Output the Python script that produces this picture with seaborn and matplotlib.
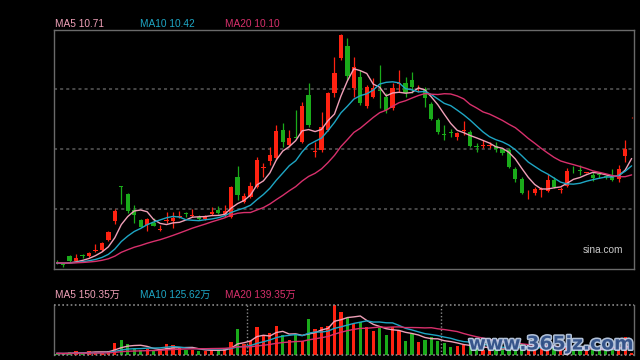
import numpy as np
import pandas as pd
import matplotlib
matplotlib.use("Agg")
import matplotlib.pyplot as plt
import matplotlib.patheffects as pe
import seaborn as sns

# ---------------- data ----------------
opens = [6.86, 6.76, 7.09, 6.91, 7.09, 7.10, 7.26, 7.31, 7.68, 8.38,
         9.66, 9.39, 8.79, 8.42, 8.24, 8.30, 8.04, 8.38, 8.38, 8.54,
         8.65, 8.56, 8.54, 8.46, 8.64, 8.79, 8.61, 8.54, 10.03, 9.10,
         9.29, 9.66, 10.36, 10.62, 10.73, 11.76, 11.20, 11.49, 11.33, 13.06,
         10.95, 11.02, 11.76, 13.12, 14.42, 14.88, 13.31, 13.72, 12.65, 13.00,
         13.22, 13.00, 12.57, 13.46, 13.49, 13.62, 13.34, 13.27, 12.73, 12.13,
         11.58, 11.66, 11.49, 11.72, 11.70, 11.14, 11.16, 11.16, 11.17, 11.04,
         11.02, 10.30, 9.93, 9.37, 9.43, 9.55, 9.51, 9.91, 9.53, 9.68,
         10.31, 10.26, 10.17, 10.09, 10.10, 10.03, 10.03, 9.93, 10.80, 12.23]
highs = [6.94, 6.79, 7.12, 7.16, 7.16, 7.25, 7.53, 7.62, 8.01, 8.83,
         9.68, 9.41, 8.98, 8.45, 8.50, 8.48, 8.24, 8.73, 8.73, 8.76,
         8.73, 8.82, 8.61, 8.61, 8.91, 8.94, 8.98, 9.68, 10.42, 9.41,
         9.84, 10.75, 10.53, 11.14, 11.95, 12.01, 11.76, 12.50, 12.81, 13.49,
         11.33, 12.44, 13.18, 14.48, 15.32, 15.16, 14.48, 13.99, 13.43, 13.68,
         14.17, 13.12, 13.49, 13.99, 13.72, 13.92, 13.43, 13.37, 12.81, 12.20,
         11.95, 11.79, 11.70, 12.11, 11.76, 11.29, 11.39, 11.33, 11.33, 11.08,
         11.08, 10.38, 10.03, 9.53, 9.63, 9.66, 10.13, 10.03, 9.66, 10.34,
         10.42, 10.46, 10.22, 10.21, 10.18, 10.09, 10.30, 10.46, 11.39, 12.26]
lows = [6.79, 6.69, 6.86, 6.90, 7.01, 7.06, 7.25, 7.27, 7.65, 8.27,
        9.03, 8.69, 8.31, 8.15, 8.01, 8.18, 8.02, 8.32, 8.12, 8.48,
        8.54, 8.54, 8.42, 8.42, 8.61, 8.64, 8.53, 8.48, 9.16, 9.04,
        9.23, 9.60, 10.03, 10.46, 10.65, 11.14, 11.14, 11.45, 11.27, 11.88,
        10.77, 10.96, 11.72, 13.00, 14.36, 13.62, 13.00, 12.69, 12.57, 12.94,
        12.57, 12.40, 12.50, 13.18, 13.00, 13.12, 13.18, 12.60, 12.13, 11.61,
        11.39, 11.49, 11.39, 11.58, 11.14, 10.96, 11.08, 11.08, 10.96, 10.83,
        10.34, 9.84, 9.39, 9.19, 9.35, 9.26, 9.47, 9.60, 9.41, 9.63,
        10.15, 10.09, 10.15, 9.88, 9.97, 9.93, 9.88, 9.84, 10.58, 12.22]
closes = [6.85, 6.75, 6.91, 7.02, 7.08, 7.21, 7.27, 7.58, 7.99, 8.77,
          9.64, 8.77, 8.61, 8.17, 8.45, 8.20, 8.05, 8.39, 8.48, 8.55,
          8.64, 8.57, 8.46, 8.52, 8.73, 8.67, 8.76, 9.63, 9.35, 9.31,
          9.68, 10.65, 10.37, 10.83, 11.72, 11.33, 11.47, 11.48, 12.65, 11.95,
          10.96, 11.86, 13.12, 13.86, 15.29, 13.78, 14.11, 12.77, 13.34, 13.31,
          13.21, 12.50, 13.31, 13.47, 13.14, 13.34, 13.35, 12.94, 12.16, 11.70,
          11.57, 11.65, 11.66, 11.73, 11.17, 11.13, 11.17, 11.17, 11.04, 10.90,
          10.38, 9.93, 9.43, 9.38, 9.57, 9.56, 9.91, 9.66, 9.54, 10.24,
          10.30, 10.25, 10.18, 9.97, 10.09, 10.02, 9.91, 10.30, 11.04, 12.24]
# volume in 万
volumes = [14, 10, 52, 72, 33, 65, 52, 59, 72, 228,
           280, 202, 117, 98, 117, 85, 85, 202, 182, 137,
           98, 98, 72, 72, 98, 98, 117, 247, 494, 215,
           267, 540, 377, 423, 553, 377, 280, 397, 273, 689,
           507, 540, 553, 962, 832, 722, 605, 637, 533, 455,
           514, 390, 533, 468, 273, 403, 241, 293, 351, 260,
           221, 156, 163, 195, 176, 124, 98, 98, 124, 111,
           156, 150, 200, 160, 130, 140, 180, 130, 110, 175,
           110, 95, 85, 110, 104, 90, 130, 160, 345, 27]
# estimated history before the visible window (for moving averages)
pre_close = [6.92, 6.88, 6.85, 6.83, 6.86, 6.81, 6.79, 6.84, 6.82, 6.80,
             6.83, 6.78, 6.81, 6.85, 6.82, 6.80, 6.84, 6.83, 6.81]
pre_volume = [35, 28, 40, 30, 25, 33, 38, 27, 30, 22,
              35, 29, 31, 26, 34, 28, 30, 24, 32]

price_labels = ["MA5 10.71", "MA10 10.42", "MA20 10.10"]
volume_labels = ["MA5 150.35万", "MA10 125.62万", "MA20 139.35万"]
source_label = "sina.com"
watermark = "www.365jz.com"

# ---------------- style ----------------
RED = "#ff2211"
GREEN = "#1aab1a"
MA_COLORS = ["#f0a0b8", "#1ea6c4", "#d8306c"]
FRAME = "#6a6a6a"
GRID = "#5a5a5a"

sns.set_theme(style="dark", rc={"axes.facecolor": "black", "figure.facecolor": "black"})
FONT = ["Liberation Sans", "Noto Sans CJK SC", "DejaVu Sans"]
plt.rcParams["font.family"] = FONT

n = len(closes)
idx = np.arange(n)
o = np.array(opens); h = np.array(highs); l = np.array(lows); c = np.array(closes)
v = np.array(volumes, dtype=float)
up = c >= o
cols = np.where(up, RED, GREEN)

full_c = pd.Series(pre_close + closes)
full_v = pd.Series(pre_volume + volumes, dtype=float)
np_ = len(pre_close)
df = pd.DataFrame({"idx": idx})
for w in (5, 10, 20):
    df[f"ma{w}"] = full_c.rolling(w, min_periods=1).mean().values[np_:]
    df[f"vma{w}"] = full_v.rolling(w, min_periods=1).mean().values[np_:]

W, H = 640, 360
fig = plt.figure(figsize=(6.4, 3.6), dpi=100, facecolor="black")
L, R = 54.3, 633.5
ax = fig.add_axes([L / W, 1 - 269.3 / H, (R - L) / W, (269.3 - 29.5) / H])
axv = fig.add_axes([L / W, 1 - 354.8 / H, (R - L) / W, (354.8 - 305.0) / H])

xlo, xhi = -0.37, 89.29
ylo, yhi = 6.592, 15.489

# ----- price panel -----
for gy in np.linspace(ylo, yhi, 5)[1:-1]:
    ax.axhline(gy, color=GRID, lw=1.1, ls=(0, (2, 2)), zorder=0)
ax.vlines(idx, l, h, colors=cols, lw=0.9, zorder=2)
body = np.maximum(np.abs(c - o), 0.03)
ax.bar(idx, body, bottom=np.minimum(o, c), width=0.66, color=cols, linewidth=0, zorder=3)
for w, colr in zip((5, 10, 20), MA_COLORS):
    sns.lineplot(data=df, x="idx", y=f"ma{w}", color=colr, lw=1.0, ax=ax, zorder=4, legend=False)
ax.set_xlim(xlo, xhi)
ax.set_ylim(ylo, yhi)

# ----- volume panel -----
vcols = cols
axv.bar(idx, v, width=0.5, color=vcols, linewidth=0, zorder=2)
for w, colr in zip((5, 10, 20), MA_COLORS):
    sns.lineplot(data=df, x="idx", y=f"vma{w}", color=colr, lw=1.0, ax=axv, zorder=4, legend=False)
for sep in (29.5, 59.5):
    axv.axvline(sep, color="#8a8a8a", lw=1.0, ls=(0, (1, 1.5)), zorder=1)
axv.set_xlim(xlo, xhi)
axv.set_ylim(0, 965)
axv.axhline(965, color="#8a8a8a", lw=1.2, ls=(0, (1, 1.5)), clip_on=False, zorder=5)
axv.axhline(0, color="#8a8a8a", lw=1.2, ls=(0, (1, 1.5)), clip_on=False, zorder=5)

for a in (ax, axv):
    a.set_xticks([]); a.set_yticks([])
    a.set_xlabel(""); a.set_ylabel("")
    a.set_facecolor("black")
    a.grid(False)
    for s in a.spines.values():
        s.set_visible(True)
        s.set_color(FRAME)
        s.set_linewidth(1.0)
axv.spines["top"].set_visible(False)
axv.spines["bottom"].set_visible(False)

# ----- texts -----
for txt, xpos, colr in zip(price_labels, (55, 140, 225), MA_COLORS):
    fig.text(xpos / W, 1 - 24.3 / H, txt, color=colr, fontsize=7.3, va="center", ha="left", family=FONT)
for txt, xpos, colr in zip(volume_labels, (55, 140, 225), MA_COLORS):
    fig.text(xpos / W, 1 - 295 / H, txt, color=colr, fontsize=7.3, va="center", ha="left", family=FONT)
fig.text(603 / W, 1 - 250 / H, source_label, color="#c8c8c8", fontsize=7.3, ha="center", va="center", family=FONT)
fig.text(551 / W, 1 - 344 / H, watermark, color="#2a4a82", fontsize=13.5, fontweight="bold",
         ha="center", va="center", family=["DejaVu Sans"],
         path_effects=[pe.withStroke(linewidth=2.2, foreground="#c8d8f0")], alpha=0.9)

fig.savefig("out.png", dpi=100, facecolor="black")
